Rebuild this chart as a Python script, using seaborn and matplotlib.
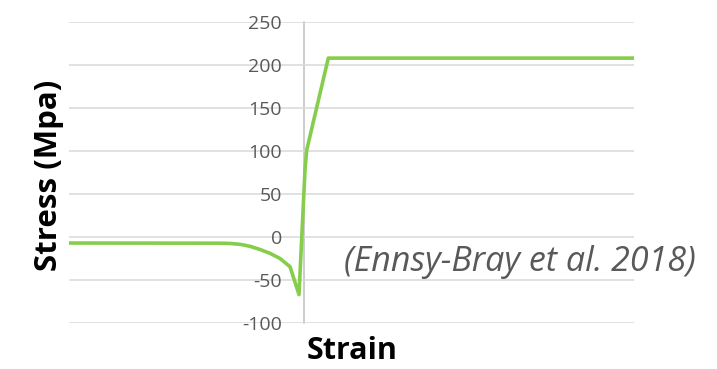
import matplotlib
matplotlib.use("Agg")
import matplotlib.pyplot as plt
import seaborn as sns
import pandas as pd

# Data (strain in arbitrary units, stress in MPa)
strain = [-0.0235, -0.0084, -0.0074, -0.0064, -0.0054, -0.0044, -0.0034, -0.0024,
          -0.0014, -0.0005, 0.0001, 0.00027, 0.00243, 0.033]
stress = [-7, -7.2, -7.5, -8.5, -10.8, -14.5, -19, -25, -34.5, -67, 78, 101, 208, 208]
yticks = [-100, -50, 0, 50, 100, 150, 200, 250]
ylabel = "Stress (Mpa)"
xlabel = "Strain"
note = "(Ennsy-Bray et al. 2018)"

sns.set_theme(style="white")
plt.rcParams['font.family'] = ['Open Sans', 'DejaVu Sans']
plt.rcParams['axes.unicode_minus'] = False

fig = plt.figure(figsize=(7.17, 3.69), dpi=100)
ax = fig.add_axes([69/717, 1-323/369, (634-69)/717, (323-22)/369])

df = pd.DataFrame({"strain": strain, "stress": stress})
sns.lineplot(data=df, x="strain", y="stress", sort=False, estimator=None,
             color="#86cd4c", linewidth=2.6, ax=ax)
for l in ax.lines:
    l.set_solid_joinstyle("round")

ax.set_xlim(-0.0235, 0.033)
ax.set_ylim(-100, 250)
ax.set_yticks(yticks)
ax.set_xticks([])
ax.yaxis.grid(True, color="#d9d9d9", linewidth=1.1)
ax.set_axisbelow(True)
for s in ["top", "right", "bottom"]:
    ax.spines[s].set_visible(False)
ax.spines["left"].set_position(("data", 0))
ax.spines["left"].set_color("#bfbfbf")
ax.spines["left"].set_linewidth(1.1)
ax.spines["left"].set_zorder(0.5)
ax.tick_params(axis="y", length=0, pad=16, labelsize=14, labelcolor="#595959")

ax.set_ylabel("")
ax.set_xlabel("")
fig.text(49/717, 1-175.5/369, ylabel, rotation=90, ha="center", va="center",
         fontsize=22.5, fontweight="bold", color="black")
fig.text(352/717, 1-351/369, xlabel, ha="center", va="center",
         fontsize=22, fontweight="bold", color="black")
fig.text(520/717, 1-262/369, note, ha="center", va="center",
         fontsize=24.5, style="italic", color="#595959")

fig.savefig("out.png", dpi=100)
